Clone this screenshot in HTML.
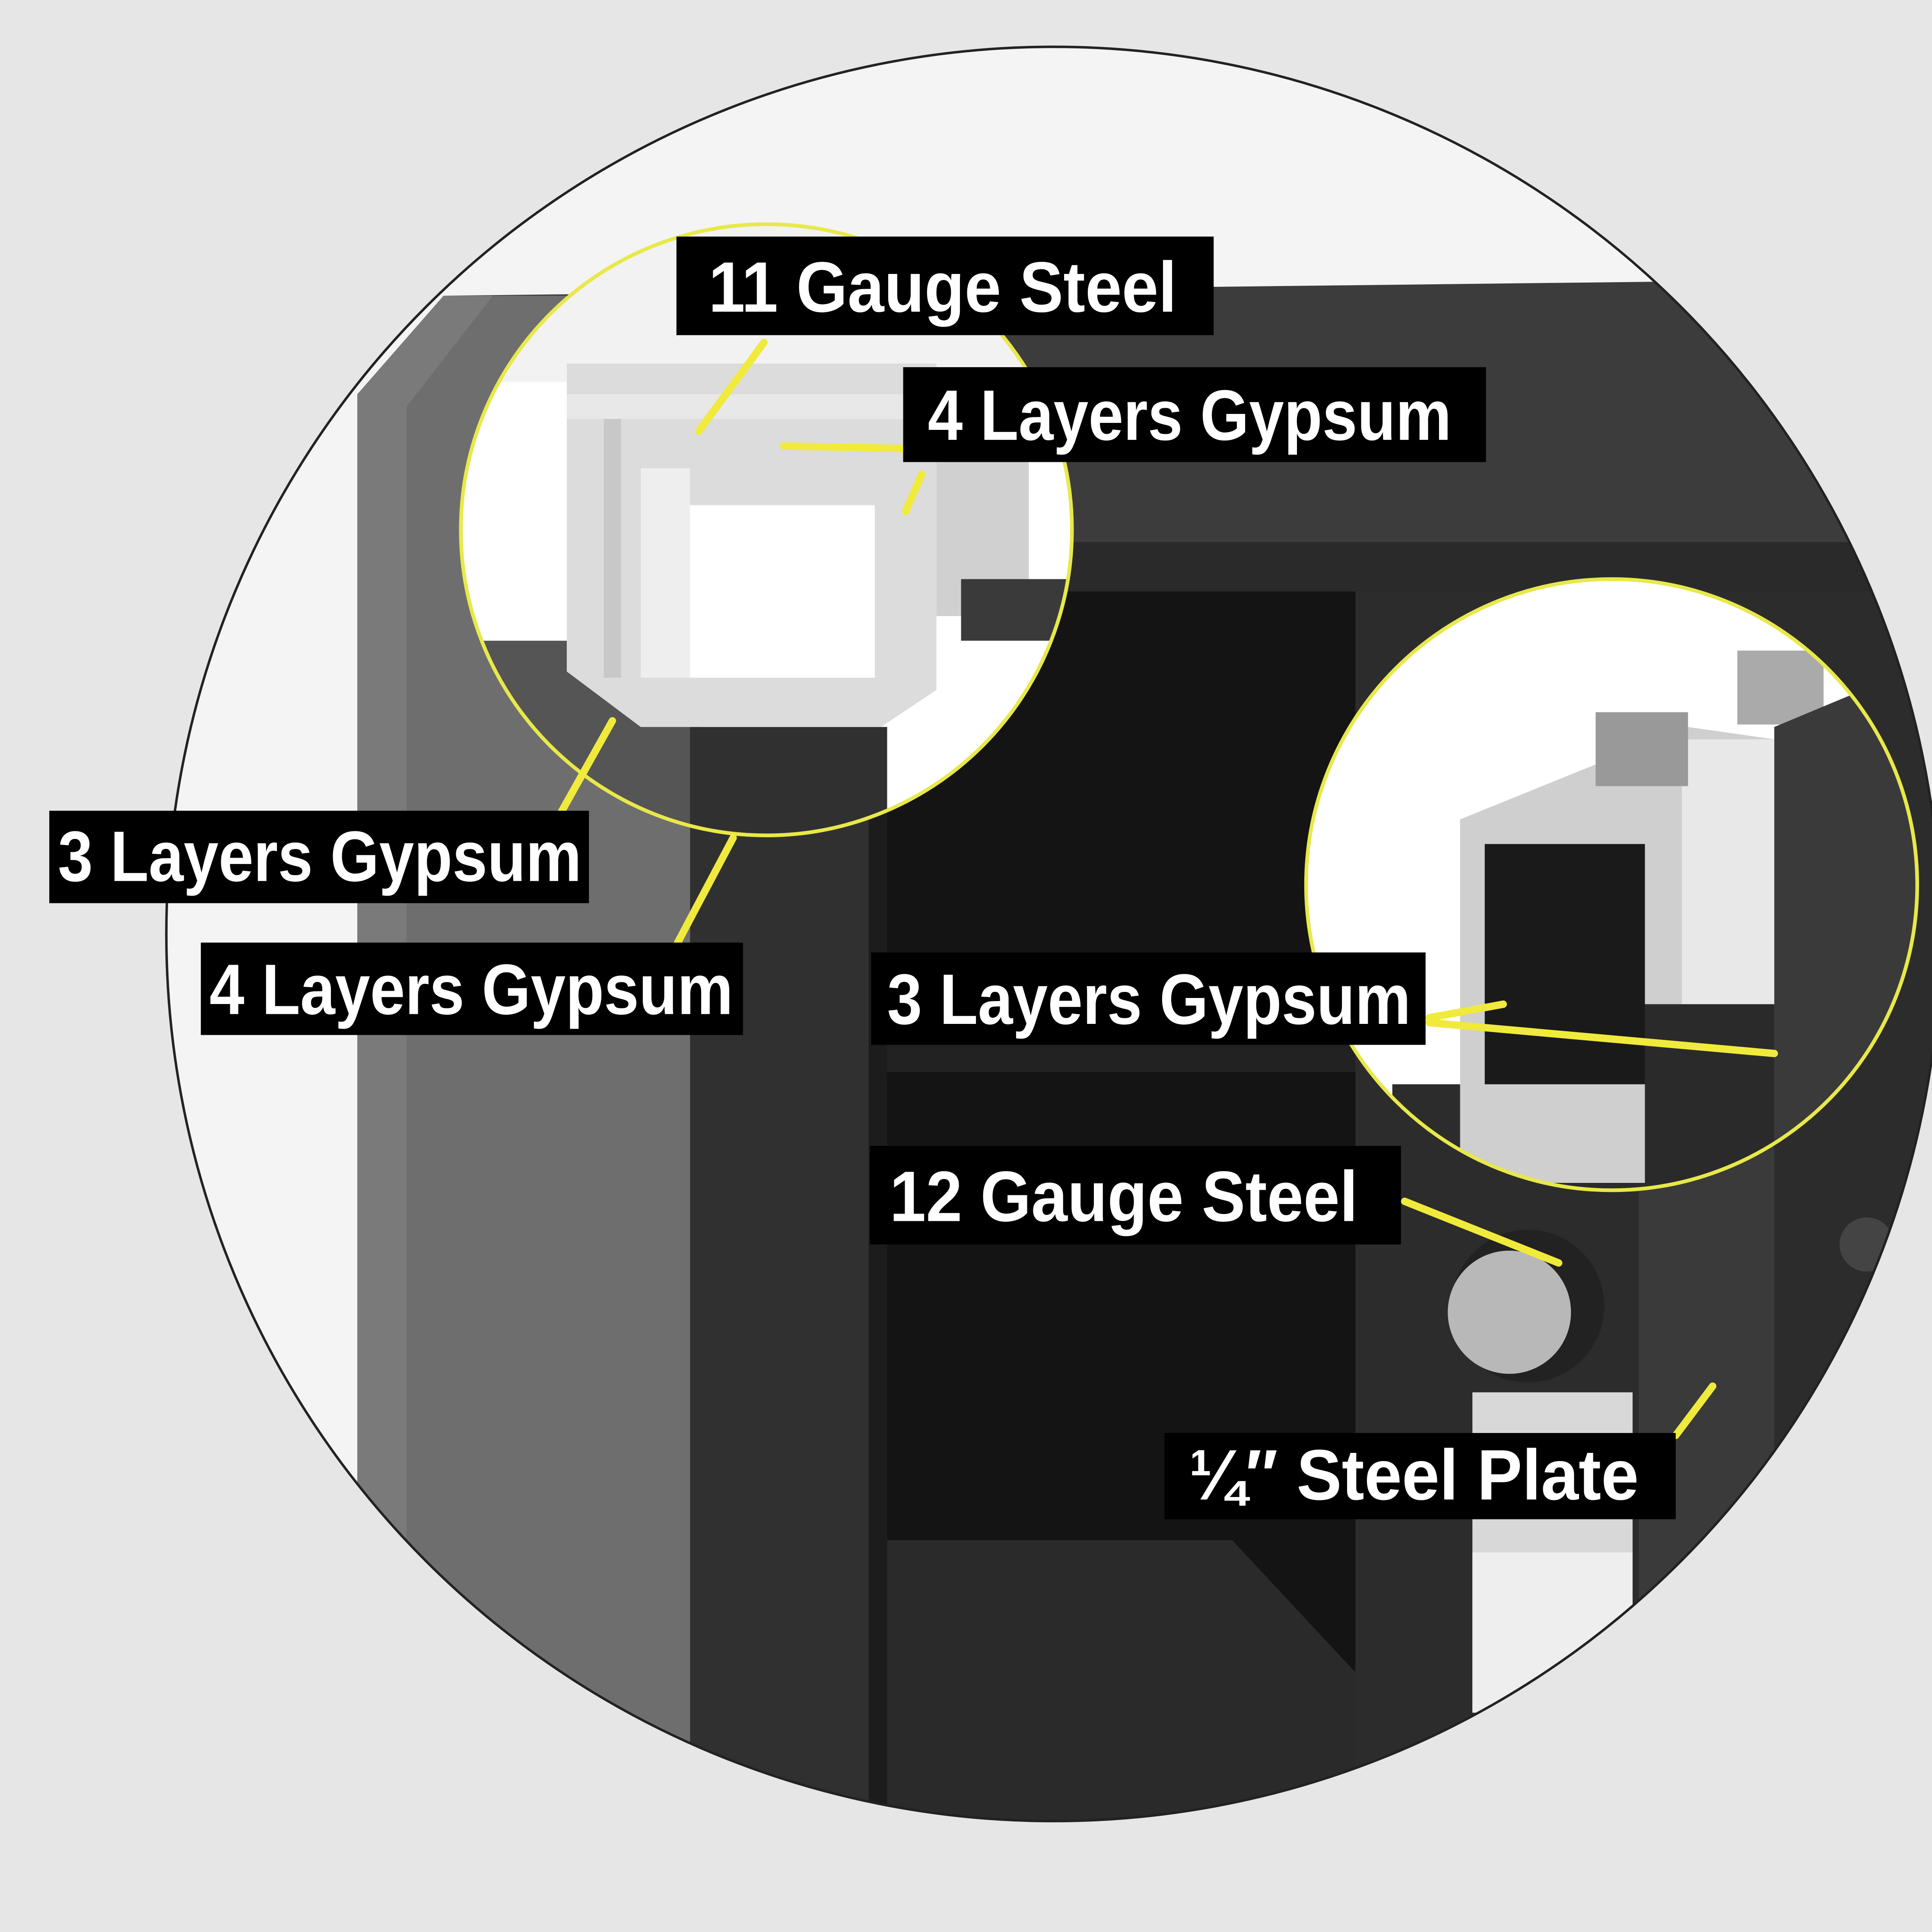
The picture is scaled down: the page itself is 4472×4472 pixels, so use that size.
<!DOCTYPE html>
<html><head><meta charset="utf-8">
<style>
html,body{margin:0;padding:0;background:#e6e6e6;}
svg{display:block;}
.lbl{font-family:"Liberation Sans Narrow","Liberation Sans",sans-serif;font-weight:bold;fill:#fff;font-size:58px;}
</style></head>
<body>
<svg width="4472" height="4472" viewBox="0 0 1568 1568" xmlns="http://www.w3.org/2000/svg">
<defs>
<clipPath id="big"><circle cx="855" cy="758" r="720"/></clipPath>
<clipPath id="c1"><circle cx="622" cy="430" r="248"/></clipPath>
<clipPath id="c2"><circle cx="1308" cy="718" r="248"/></clipPath>
</defs>
<rect width="1568" height="1568" fill="#e6e6e6"/>
<circle cx="855" cy="758" r="720" fill="#f4f4f4"/>
<g clip-path="url(#big)">
  <!-- safe side panel -->
  <polygon points="290,320 360,240 560,240 560,1568 290,1568" fill="#6e6e6e"/>
  <polygon points="290,320 360,240 400,240 330,330 330,1568 290,1568" fill="#7a7a7a"/>
  <!-- top -->
  <polygon points="360,240 1400,228 1568,228 1568,470 560,470 560,240" fill="#3c3c3c"/>
  <rect x="560" y="440" width="1008" height="40" fill="#2a2a2a"/>
  <!-- interior -->
  <rect x="720" y="480" width="420" height="1100" fill="#141414"/>
  <rect x="720" y="840" width="420" height="30" fill="#222"/>
  <polygon points="720,1250 1000,1250 1140,1400 1140,1568 720,1568" fill="#2a2a2a"/>
  <!-- front left pillar -->
  <rect x="560" y="590" width="160" height="1000" fill="#303030"/>
  <rect x="705" y="590" width="15" height="1000" fill="#1c1c1c"/>
  <!-- door -->
  <rect x="1100" y="480" width="468" height="1100" fill="#2c2c2c"/>
  <rect x="1330" y="780" width="110" height="800" fill="#3a3a3a"/>
  <circle cx="1240" cy="1060" r="62" fill="#222"/>
  <circle cx="1225" cy="1065" r="50" fill="#b8b8b8"/>
  <rect x="1195" y="1130" width="130" height="260" fill="#d8d8d8"/>
  <rect x="1195" y="1260" width="130" height="130" fill="#eee"/>
  <circle cx="1515" cy="1010" r="22" fill="#444"/>
</g>
<circle cx="855" cy="758" r="720" fill="none" stroke="#222" stroke-width="2"/>

<!-- inset 1 -->
<g clip-path="url(#c1)">
  <rect x="370" y="180" width="510" height="500" fill="#fff"/>
  <rect x="370" y="180" width="510" height="130" fill="#f2f2f2"/>
  <rect x="600" y="420" width="280" height="260" fill="#fff"/>
  <rect x="370" y="520" width="200" height="160" fill="#555"/>
  <rect x="560" y="590" width="160" height="100" fill="#303030"/>
  <polygon points="460,295 760,295 760,560 715,590 520,590 460,545" fill="#dcdcdc"/>
  <rect x="560" y="410" width="150" height="140" fill="#fff"/>
  <rect x="460" y="320" width="300" height="20" fill="#e8e8e8"/>
  <rect x="490" y="340" width="14" height="210" fill="#c8c8c8"/>
  <rect x="520" y="380" width="40" height="170" fill="#eee"/>
  <rect x="760" y="330" width="75" height="170" fill="#d0d0d0"/>
  <rect x="780" y="470" width="100" height="50" fill="#3a3a3a"/>
</g>
<circle cx="622" cy="430" r="248" fill="none" stroke="#e8e84a" stroke-width="3"/>

<!-- inset 2 -->
<g clip-path="url(#c2)">
  <rect x="1050" y="460" width="520" height="520" fill="#fff"/>
  <rect x="1130" y="880" width="440" height="100" fill="#2c2c2c"/>
  <polygon points="1185,665 1370,590 1440,600 1440,960 1185,960" fill="#cfcfcf"/>
  <rect x="1205" y="685" width="130" height="195" fill="#1a1a1a"/>
  <rect x="1365" y="600" width="75" height="215" fill="#e8e8e8"/>
  <rect x="1295" y="578" width="75" height="60" fill="#999"/>
  <rect x="1410" y="528" width="70" height="60" fill="#aaa"/>
  <polygon points="1440,590 1560,540 1568,980 1440,980" fill="#3a3a3a"/>
  <rect x="1335" y="815" width="105" height="160" fill="#2a2a2a"/>
</g>
<circle cx="1308" cy="718" r="248" fill="none" stroke="#e8e84a" stroke-width="3"/>

<!-- leader lines -->
<g stroke="#f0ea3c" stroke-width="6" stroke-linecap="round">
  <line x1="620" y1="278" x2="567" y2="350"/>
  <line x1="636" y1="362" x2="733" y2="364"/>
  <line x1="748" y1="385" x2="735" y2="415"/>
  <line x1="497" y1="585" x2="455" y2="660"/>
  <line x1="595" y1="680" x2="550" y2="765"/>
  <line x1="1160" y1="826" x2="1220" y2="815"/>
  <line x1="1160" y1="830" x2="1440" y2="855"/>
  <line x1="1140" y1="975" x2="1265" y2="1025"/>
  <line x1="1360" y1="1165" x2="1390" y2="1125"/>
</g>

<!-- labels -->
<rect x="549" y="192" width="436" height="80" fill="#000"/>
<text class="lbl" x="575" y="253" textLength="380" lengthAdjust="spacingAndGlyphs">11 Gauge Steel</text>
<rect x="733" y="298" width="473" height="77" fill="#000"/>
<text class="lbl" x="753" y="357" textLength="425" lengthAdjust="spacingAndGlyphs">4 Layers Gypsum</text>
<rect x="40" y="658" width="438" height="75" fill="#000"/>
<text class="lbl" x="47" y="715" textLength="425" lengthAdjust="spacingAndGlyphs">3 Layers Gypsum</text>
<rect x="163" y="765" width="440" height="75" fill="#000"/>
<text class="lbl" x="170" y="823" textLength="425" lengthAdjust="spacingAndGlyphs">4 Layers Gypsum</text>
<rect x="707" y="773" width="450" height="75" fill="#000"/>
<text class="lbl" x="720" y="831" textLength="425" lengthAdjust="spacingAndGlyphs">3 Layers Gypsum</text>
<rect x="706" y="930" width="431" height="80" fill="#000"/>
<text class="lbl" x="722" y="991" textLength="380" lengthAdjust="spacingAndGlyphs">12 Gauge Steel</text>
<rect x="945" y="1163" width="415" height="70" fill="#000"/>
<text class="lbl" x="965" y="1217" textLength="365" lengthAdjust="spacingAndGlyphs">¼″ Steel Plate</text>
</svg>
</body></html>
